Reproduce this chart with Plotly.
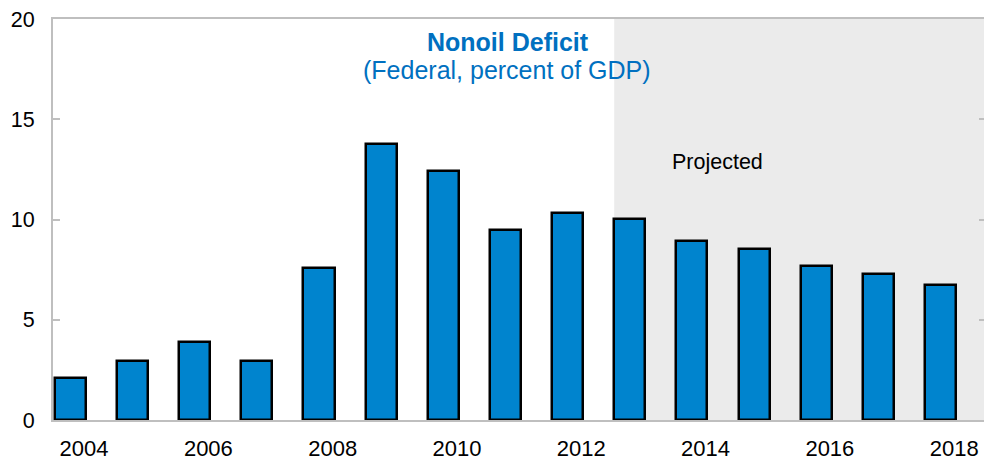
import plotly.graph_objects as go

# Federal nonoil deficit, percent of GDP
years = [2004, 2005, 2006, 2007, 2008, 2009, 2010, 2011, 2012,
         2013, 2014, 2015, 2016, 2017, 2018]
deficit = [2.1, 2.95, 3.9, 2.95, 7.6, 13.75, 12.4, 9.5, 10.3,
           10.05, 8.95, 8.55, 7.7, 7.3, 6.75]
tick_years = [2004, 2006, 2008, 2010, 2012, 2014, 2016, 2018]
y_ticks = [0, 5, 10, 15, 20]
first_projected = 2013

BAR_WIDTH = 0.5
BAR_OFFSET = -0.47
X_RANGE = [2003.5, 2018.48]
AXIS_GREY = "#BFBFBF"
FONT = "Liberation Sans, Arial, sans-serif"

fig = go.Figure()

fig.add_trace(go.Bar(
    x=years,
    y=deficit,
    width=BAR_WIDTH,
    offset=BAR_OFFSET,
    marker=dict(color="#0084CE", line=dict(color="#000000", width=2.5)),
    hoverinfo="x+y",
    showlegend=False,
))

# invisible trace carrying the right-hand tick marks
fig.add_trace(go.Scatter(
    x=[years[0]], y=[0], yaxis="y2", mode="markers",
    marker=dict(opacity=0), hoverinfo="skip", showlegend=False,
))

# shaded projection period
fig.add_shape(
    type="rect", xref="x", yref="paper",
    x0=first_projected + BAR_OFFSET, x1=X_RANGE[1], y0=0, y1=1,
    fillcolor="#EBEBEB", line=dict(width=0), layer="below",
)

fig.add_annotation(
    text="<b>Nonoil Deficit</b>", xref="paper", yref="paper",
    x=0.489, y=0.943, xanchor="center", yanchor="middle", showarrow=False,
    font=dict(family=FONT, size=25, color="#0070C0"),
)
fig.add_annotation(
    text="(Federal, percent of GDP)", xref="paper", yref="paper",
    x=0.488, y=0.873, xanchor="center", yanchor="middle", showarrow=False,
    font=dict(family=FONT, size=25, color="#0070C0"),
)
fig.add_annotation(
    text="Projected", xref="x", yref="y",
    x=2013.43, y=12.87, xanchor="left", yanchor="middle", showarrow=False,
    font=dict(family=FONT, size=21.5, color="#000000"),
)

fig.update_layout(
    width=984, height=461,
    margin=dict(l=53, r=0, t=19, b=39),
    paper_bgcolor="#FFFFFF",
    plot_bgcolor="#FFFFFF",
    font=dict(family=FONT, size=21.5, color="#000000"),
    xaxis=dict(
        range=X_RANGE,
        tickmode="array", tickvals=tick_years,
        ticktext=[str(y) for y in tick_years],
        showgrid=False, zeroline=False,
        showline=True, linecolor=AXIS_GREY, linewidth=2, mirror=True,
        ticks="", ticklabelstandoff=8,
        tickfont=dict(family=FONT, size=22),
    ),
    yaxis=dict(
        range=[0, 20],
        tickmode="array", tickvals=y_ticks,
        showgrid=False, zeroline=False,
        showline=True, linecolor=AXIS_GREY, linewidth=2,
        ticks="inside", ticklen=7, tickwidth=2, tickcolor=AXIS_GREY,
        ticklabelstandoff=12,
        tickfont=dict(family=FONT, size=21.5),
    ),
    yaxis2=dict(
        range=[0, 20], overlaying="y", side="right",
        tickmode="array", tickvals=y_ticks,
        showgrid=False, zeroline=False, showline=False,
        ticks="inside", ticklen=5, tickwidth=2, tickcolor=AXIS_GREY,
        showticklabels=False,
    ),
    bargap=0,
)

fig.write_html("out.html")
